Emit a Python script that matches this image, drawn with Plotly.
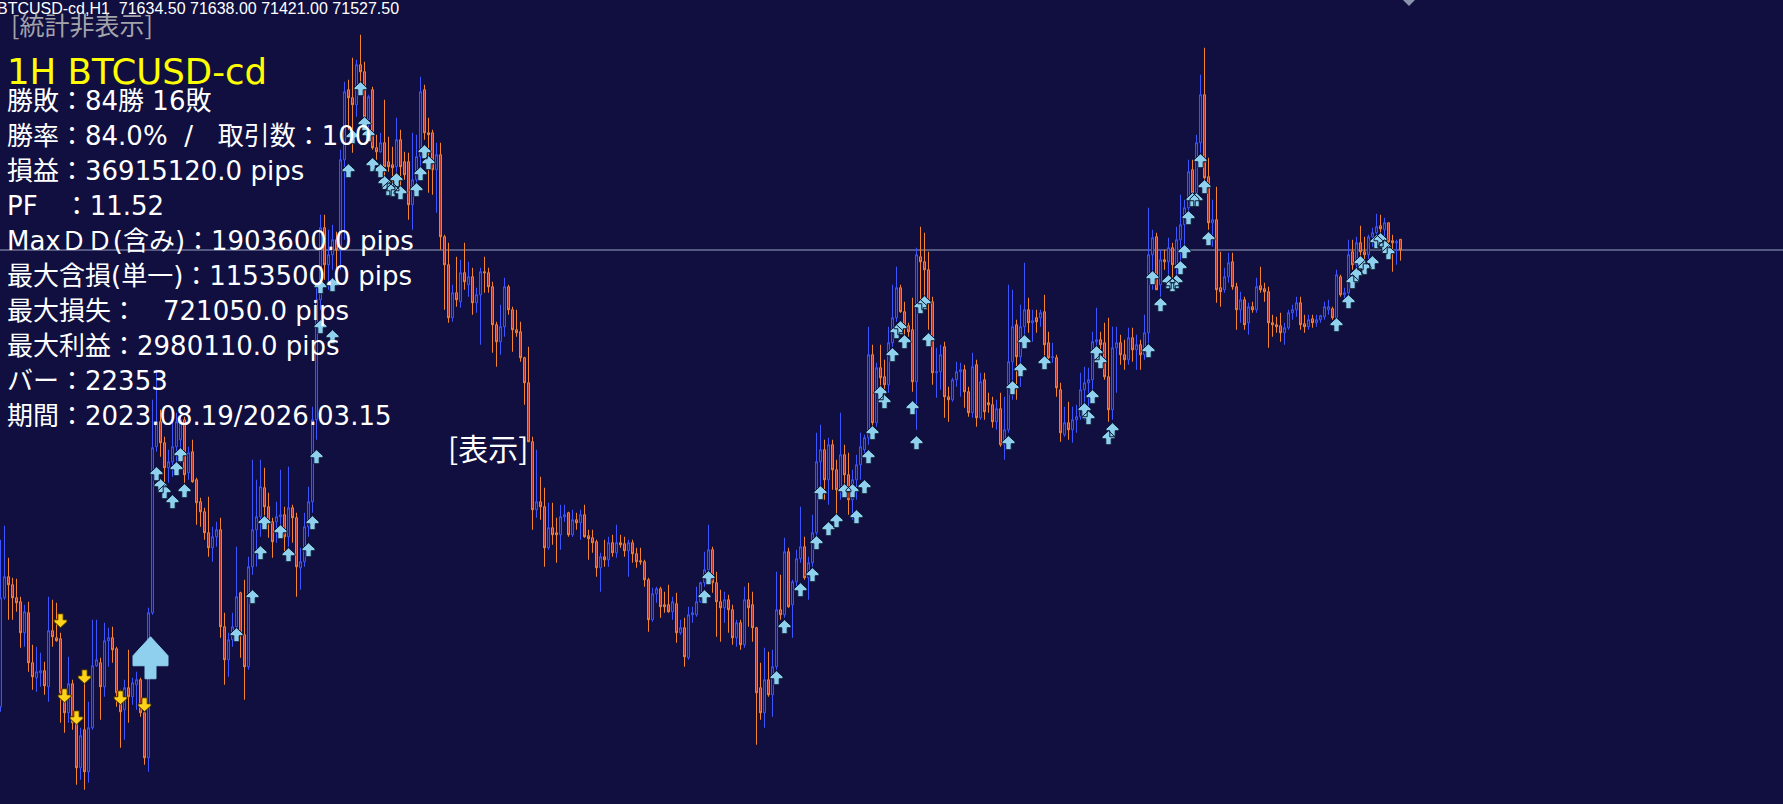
import plotly.graph_objects as go

W, H = 1783, 804
BG = "#100f3f"

# ---------------- data (BTCUSD-cd H1, last 351 bars) ----------------
opens = [
66960, 68050, 68260, 68180, 68050, 68010, 67700, 67900, 67400, 67250,
67300, 67320, 67160, 67720, 67650, 67640, 67100, 66900, 67190, 66800,
66350, 66730, 66310, 66750, 67370, 67400, 67160, 67620, 67650, 67540,
67100, 66930, 67150, 67060, 67180, 67230, 66900, 66450, 67900, 69560,
69810, 69600, 69350, 69410, 69560, 69630, 69830, 69300, 69510, 69230,
69010, 68910, 68700, 68550, 68660, 68730, 67760, 67430, 67630, 67760,
68100, 67680, 67360, 68360, 68730, 68860, 69150, 68960, 68810, 68810,
68860, 68880, 68660, 68950, 68850, 68350, 68410, 68760, 69010, 69830,
71030, 71750, 71380, 71480, 71630, 71530, 72430, 73130, 73050, 72980,
73380, 73310, 72830, 73130, 72550, 72510, 72600, 72410, 72380, 72360,
72630, 72410, 72410, 71980, 72230, 72460, 73130, 72700, 72700, 72330,
72480, 71660, 71380, 70850, 71100, 71010, 71300, 71180, 71260, 71000,
71080, 71310, 71300, 71160, 70780, 70610, 70760, 71160, 70930, 70730,
70710, 70450, 70200, 69610, 68930, 69010, 68960, 68550, 68750, 68700,
68680, 68860, 68900, 68680, 68830, 68800, 68880, 68670, 68650, 68610,
68350, 68460, 68430, 68600, 68500, 68600, 68590, 68520, 68600, 68490,
68420, 68410, 68230, 67830, 68090, 68140, 67980, 67980, 67910, 67990,
67700, 67750, 67450, 67880, 67880, 68010, 68200, 68330, 68530, 68200,
68010, 67950, 68030, 67930, 67650, 67800, 67580, 68030, 67980, 67750,
67150, 66900, 67230, 67080, 67360, 67930, 67880, 68510, 67980, 68210,
68440, 68560, 68250, 68400, 68700, 69410, 69530, 69230, 69580, 69330,
69130, 69480, 69280, 69030, 69230, 69380, 69530, 69650, 70480, 69800,
70350, 70260, 70180, 70600, 70850, 71150, 70910, 70770, 70730, 70210,
71460, 71410, 71330, 71010, 70300, 70310, 70560, 70060, 70030, 70230,
70310, 70330, 70110, 69900, 70380, 69850, 70230, 70000, 69980, 69810,
69940, 69580, 69730, 70410, 70780, 70460, 70760, 70930, 70800, 70850,
70850, 70910, 70600, 70450, 70450, 70130, 69680, 69800, 69730, 69830,
69860, 70130, 70200, 70230, 70610, 70630, 70600, 70260, 69930, 70550,
70600, 70480, 70430, 70650, 70530, 70580, 70480, 70700, 71480, 71660,
71180, 71430, 71410, 71550, 71380, 71630, 71780, 71950, 72330, 72100,
72600, 73080, 72260, 71800, 71830, 71150, 71130, 71260, 71410, 71160,
70930, 71030, 70800, 70960, 70930, 71170, 71140, 71110, 70800, 70780,
70770, 70700, 70750, 70900, 70930, 71000, 70790, 70760, 70840, 70800,
70830, 70860, 70930, 70940, 70850, 71260, 71080, 71100, 71510, 71380,
71600, 71510, 71480, 71660, 71700, 71770, 71730, 71800, 71620, 71600,
71634.5]

highs = [
68630, 68770, 68450, 68250, 68240, 68060, 67980, 68010, 67580, 67560,
67500, 67410, 68060, 68030, 68000, 67700, 67130, 67460, 67230, 66900,
66750, 67260, 67010, 67830, 67830, 67450, 67800, 67750, 67760, 67560,
67130, 67230, 67530, 67250, 67310, 67250, 66910, 67950, 70030, 70330,
69930, 69660, 69530, 69830, 69900, 69930, 69860, 69560, 69630, 69250,
69050, 68950, 69060, 68760, 68810, 68850, 67900, 67700, 67900, 68560,
68110, 68230, 68460, 69430, 69230, 69430, 69350, 69100, 68850, 69010,
69330, 68960, 69360, 68980, 68900, 68550, 68900, 69160, 69960, 71200,
71880, 71880, 71730, 71780, 71710, 72530, 73210, 73230, 73450, 73430,
73680, 73410, 73080, 73160, 72680, 72700, 73030, 72660, 72560, 72850,
72730, 72510, 72500, 72700, 72680, 73260, 73180, 72850, 72730, 72600,
72600, 71680, 71600, 71180, 71460, 71430, 71600, 71410, 71350, 71150,
71350, 71460, 71350, 71210, 70810, 70980, 71250, 71180, 70960, 70930,
70810, 70460, 70560, 69660, 69530, 69260, 69150, 69000, 69000, 68850,
68980, 68980, 68910, 68930, 68900, 68930, 68980, 68730, 68730, 68630,
68500, 68630, 68660, 68680, 68780, 68680, 68660, 68630, 68630, 68550,
68550, 68430, 68250, 68150, 68160, 68160, 68110, 68180, 68060, 68100,
67830, 67850, 67960, 67960, 68160, 68210, 68510, 68780, 68560, 68310,
68130, 68110, 68080, 67980, 67830, 67830, 68160, 68200, 68110, 67760,
67400, 67550, 67510, 67530, 68310, 68280, 68650, 68550, 68230, 68530,
68960, 68660, 68460, 68880, 69700, 69780, 69630, 69650, 69630, 69430,
69900, 69580, 69500, 69330, 69480, 69700, 69680, 70760, 70580, 70400,
70580, 70430, 70760, 71180, 71360, 71180, 71010, 70800, 71050, 71550,
71760, 71700, 71510, 71060, 70550, 70580, 70610, 70160, 70250, 70410,
70400, 70380, 70160, 70500, 70430, 70300, 70300, 70100, 70060, 70030,
70100, 70060, 71180, 71130, 70830, 70980, 71400, 71050, 70930, 70930,
70930, 71080, 70710, 70600, 70480, 70200, 69960, 70010, 69960, 69980,
70300, 70360, 70350, 70710, 70950, 70710, 70800, 70850, 70760, 70760,
70680, 70630, 70750, 70750, 70680, 70630, 70880, 71950, 71730, 71700,
71530, 71530, 71650, 71600, 71760, 72080, 72030, 72430, 72430, 72680,
73280, 73550, 72450, 72030, 72160, 71510, 71350, 71500, 71500, 71200,
71110, 71060, 71000, 71010, 71250, 71360, 71200, 71160, 70880, 70860,
70900, 70800, 70930, 70980, 71060, 71060, 70880, 70880, 70880, 70880,
70880, 71010, 71030, 70960, 71330, 71280, 71150, 71630, 71630, 71660,
71770, 71660, 71680, 71750, 71890, 71880, 71850, 71800, 71680, 71630,
71638.0]

lows = [
66910, 68030, 67830, 67830, 67910, 67550, 67560, 67310, 67130, 67110,
67160, 67080, 67010, 67560, 67610, 66800, 66700, 66800, 66730, 66180,
66230, 66130, 66200, 66730, 67360, 66830, 67060, 67360, 67400, 66960,
66550, 66630, 66800, 66980, 66930, 66860, 66380, 66310, 67880, 69510,
69460, 69200, 69200, 69260, 69360, 69400, 69200, 69230, 69200, 68780,
68760, 68630, 68460, 68410, 68560, 67650, 67180, 67260, 67560, 67700,
67450, 67030, 67330, 68280, 68360, 68660, 68830, 68650, 68450, 68600,
68760, 68500, 68560, 68600, 68060, 68130, 68360, 68660, 68900, 69630,
70930, 71230, 71130, 71330, 71350, 71330, 71630, 72730, 72500, 72860,
73160, 72730, 72710, 72530, 72430, 72500, 72260, 72310, 72160, 72250,
72160, 72230, 71830, 71730, 72200, 72360, 72630, 72100, 72080, 71900,
71530, 70930, 70800, 70810, 70960, 70950, 71130, 71060, 70880, 70900,
70580, 71100, 71100, 70500, 70360, 70480, 70660, 70880, 70510, 70660,
70410, 69980, 69610, 68730, 68850, 68830, 68360, 68530, 68580, 68400,
68530, 68810, 68660, 68660, 68730, 68630, 68650, 68430, 68500, 68260,
68110, 68360, 68360, 68460, 68450, 68550, 68460, 68260, 68400, 68350,
68380, 68160, 67710, 67810, 68000, 67850, 67900, 67900, 67830, 67600,
67680, 67360, 67430, 67800, 67860, 68000, 68160, 68300, 68100, 67660,
67610, 67800, 67700, 67580, 67560, 67530, 67550, 67760, 67610, 66580,
66830, 66750, 67060, 66860, 67330, 67830, 67850, 67950, 67650, 68160,
68400, 68230, 68030, 68360, 68630, 69130, 69030, 68980, 69130, 68830,
69030, 69080, 68880, 68830, 69030, 69230, 69460, 69580, 69700, 69760,
70100, 70030, 70100, 70560, 70810, 70900, 70600, 70660, 70110, 69730,
71030, 70960, 70730, 70180, 70050, 70130, 69850, 69810, 70010, 70160,
70060, 69950, 69860, 69850, 69760, 69830, 69830, 69900, 69750, 69730,
69560, 69430, 69700, 70030, 70030, 70160, 70630, 70700, 70610, 70700,
70760, 70460, 70410, 70400, 70060, 69610, 69660, 69630, 69600, 69700,
69830, 69830, 69810, 70100, 70460, 70360, 70230, 69810, 69830, 70100,
70380, 70330, 70380, 70410, 70330, 70330, 70430, 70530, 71130, 71130,
71060, 71330, 71260, 71200, 71260, 71360, 71460, 71860, 72060, 72000,
72500, 72210, 71730, 71560, 71000, 70960, 71100, 71200, 71130, 70730,
70800, 70730, 70680, 70900, 70900, 71100, 71010, 70550, 70660, 70700,
70610, 70580, 70730, 70830, 70860, 70730, 70700, 70730, 70750, 70760,
70800, 70830, 70880, 70830, 70830, 71060, 71030, 71060, 71330, 71330,
71460, 71350, 71410, 71560, 71650, 71600, 71560, 71560, 71310, 71380,
71421.0]

closes = [
68050, 68260, 68180, 68050, 68000, 67700, 67910, 67400, 67260, 67310,
67320, 67170, 67720, 67660, 67620, 67100, 66900, 67190, 66800, 66350,
66670, 66310, 66750, 67370, 67430, 67160, 67620, 67650, 67530, 67100,
66910, 67150, 67060, 67200, 67230, 66900, 66450, 67900, 69550, 69810,
69600, 69350, 69410, 69560, 69810, 69830, 69280, 69500, 69210, 69000,
68910, 68700, 68550, 68660, 68730, 67760, 67430, 67630, 67760, 68060,
67700, 67360, 68360, 68730, 68860, 69160, 68960, 68810, 68610, 68860,
68880, 68660, 68950, 68850, 68360, 68410, 68760, 69010, 69830, 71030,
71750, 71380, 71480, 71630, 71530, 72430, 73110, 73050, 72980, 73380,
73310, 72860, 73060, 72550, 72510, 72600, 72360, 72360, 72350, 72630,
72360, 72280, 71980, 72230, 72460, 73110, 72700, 72680, 72330, 72480,
71660, 71380, 70850, 71100, 71030, 71300, 71210, 71260, 71000, 71080,
71310, 71300, 71160, 70780, 70610, 70760, 71160, 70930, 70730, 70700,
70450, 70200, 69610, 68930, 69010, 68960, 68550, 68750, 68680, 68680,
68860, 68880, 68680, 68830, 68800, 68880, 68660, 68640, 68600, 68350,
68460, 68430, 68600, 68500, 68600, 68580, 68520, 68600, 68490, 68410,
68410, 68230, 67830, 68090, 68140, 67960, 67960, 67910, 68010, 67700,
67750, 67460, 67880, 67900, 68010, 68200, 68330, 68530, 68200, 68010,
67950, 68030, 67930, 67650, 67800, 67580, 68030, 67950, 67750, 67100,
66900, 67230, 67080, 67360, 67930, 67880, 68510, 67960, 68210, 68440,
68560, 68250, 68400, 68700, 69410, 69530, 69230, 69580, 69330, 69130,
69480, 69280, 69030, 69230, 69380, 69560, 69650, 70480, 69800, 70350,
70250, 70180, 70600, 70850, 71150, 70910, 70760, 70710, 70210, 71480,
71410, 71330, 71000, 70300, 70310, 70480, 70060, 70030, 70230, 70310,
70330, 70110, 69900, 70360, 69850, 70210, 69910, 69980, 69810, 69940,
69580, 69730, 70410, 70760, 70460, 70760, 70930, 70800, 70820, 70810,
70900, 70580, 70450, 70460, 70150, 69700, 69800, 69730, 69830, 69860,
70130, 70200, 70230, 70610, 70630, 70580, 70260, 69930, 70550, 70600,
70480, 70430, 70650, 70530, 70580, 70480, 70700, 71480, 71650, 71130,
71430, 71410, 71550, 71380, 71630, 71780, 71950, 72310, 72100, 72600,
73080, 72250, 71800, 71830, 71130, 71110, 71260, 71400, 71160, 70930,
71030, 70780, 70960, 70930, 71160, 71130, 71110, 70800, 70780, 70760,
70700, 70750, 70900, 70930, 71000, 70780, 70760, 70830, 70800, 70830,
70870, 70960, 70960, 70850, 71280, 71080, 71100, 71480, 71380, 71600,
71510, 71480, 71660, 71700, 71760, 71740, 71800, 71610, 71600, 71610,
71527.5]

bars = list(range(len(opens)))

# buy signals (light-blue up arrows): bar index, price level of arrow centre
buy_bar = [39, 40, 41, 43, 44, 45, 46, 59, 63, 65, 66, 70, 72, 77, 78, 79,
           80, 80, 83, 83, 87, 88, 90, 91, 92, 93, 95, 96, 97, 98, 99, 100,
           104, 105, 106, 107, 176, 177, 194, 196, 200, 203, 204, 205, 207,
           209, 211, 213, 214, 216, 217, 218, 220, 221, 223, 224, 225, 226,
           228, 229, 230, 231, 232, 252, 253, 255, 256, 261, 271, 272, 273,
           274, 275, 277, 278, 287, 288, 290, 292, 293, 294, 295, 296, 297,
           298, 299, 300, 301, 302, 334, 337, 338, 339, 340, 341, 343, 344,
           345, 346, 347]
buy_price = [69290, 69170, 69110, 69010, 69340, 69480, 69120, 67680, 68060,
             68500, 68800, 68710, 68480, 68530, 68800, 69460, 70760, 71160,
             70660, 71180, 72320, 72660, 73140, 72790, 72680, 72380, 72320,
             72200, 72140, 72130, 72230, 72100, 72130, 72290, 72510, 72400,
             68060, 68250, 67250, 67760, 68130, 68280, 68600, 69100, 68740,
             68820, 69120, 69120, 68860, 69160, 69460, 69700, 70100, 70010,
             70480, 70710, 70750, 70610, 69950, 69600, 70960, 71000, 70630,
             69600, 70150, 70330, 70610, 70400, 69930, 69850, 70060, 70500,
             70410, 69650, 69730, 70520, 71250, 70980, 71210, 71180, 71210,
             71350, 71510, 71850, 72030, 72030, 72420, 72160, 71640, 70780,
             71010, 71210, 71280, 71400, 71350, 71400, 71610, 71630, 71560,
             71500]

# sell signals (yellow down arrows)
sell_bar = [15, 16, 19, 21, 30, 36]
sell_price = [67820, 67070, 66850, 67260, 67050, 66980]

# current large entry arrow (tip level)
big_bar = [37.5]
big_price = [67660]

stats_lines = [
    "勝敗：84勝 16敗",
    "勝率：84.0%\u00a0\u00a0/\u00a0\u00a0\u00a0取引数：100",
    "損益：36915120.0 pips",
    "PF　：11.52",
    "MaxＤＤ(含み)：1903600.0 pips",
    "最大含損(単一)：1153500.0 pips",
    "最大損失：　721050.0 pips",
    "最大利益：2980110.0 pips",
    "バー：22353",
    "期間：2023.08.19/2026.03.15",
]
header_text = "BTCUSD-cd,H1\u00a0\u00a071634.50 71638.00 71421.00 71527.50"

# ---------------- scales ----------------
X0, X1 = -0.125, 445.625
Y0, Y1 = 65987.5, 74027.5
PXX = (X1 - X0) / W      # bar units per pixel
PXY = (Y1 - Y0) / H      # price per pixel

UP_GLYPH = [(0, 0), (6.5, 6), (6.5, 8), (2.7, 8), (2.7, 14), (-2.7, 14), (-2.7, 8),
            (-6.5, 8), (-6.5, 6), (0, 0)]
BIG_GLYPH = [(0, 0), (17.5, 19), (17.5, 29), (5.5, 29), (5.5, 42), (-5.5, 42),
             (-5.5, 29), (-17.5, 29), (-17.5, 19), (0, 0)]


def glyphs(xs, ys, glyph, up=True, centre=7.0):
    gx, gy = [], []
    for x, y in zip(xs, ys):
        tip = y + centre * PXY if up else y - centre * PXY
        for dx, dy in glyph:
            gx.append(x + dx * PXX)
            gy.append(tip - dy * PXY if up else tip + dy * PXY)
        gx.append(None)
        gy.append(None)
    return gx, gy


fig = go.Figure()
fig.add_trace(go.Candlestick(
    x=bars, open=opens, high=highs, low=lows, close=closes,
    increasing=dict(line=dict(color="#3d55ff", width=1), fillcolor="#16165e"),
    decreasing=dict(line=dict(color="#f5842c", width=1), fillcolor="#b8321a"),
    whiskerwidth=0, hoverinfo="skip", showlegend=False))

bx, by = glyphs(buy_bar, buy_price, UP_GLYPH, up=True)
fig.add_trace(go.Scatter(x=bx, y=by, mode="lines", fill="toself",
                         fillcolor="#8fd0ee", line=dict(color="#0c1a33", width=1),
                         hoverinfo="skip", showlegend=False))
sx, sy = glyphs(sell_bar, sell_price, UP_GLYPH, up=False)
fig.add_trace(go.Scatter(x=sx, y=sy, mode="lines", fill="toself",
                         fillcolor="#ffd21a", line=dict(color="#3a2a00", width=1),
                         hoverinfo="skip", showlegend=False))
gx, gy = glyphs(big_bar, big_price, BIG_GLYPH, up=True, centre=0)
fig.add_trace(go.Scatter(x=gx, y=gy, mode="lines", fill="toself",
                         fillcolor="#8fd0ee", line=dict(color="#8fd0ee", width=1),
                         hoverinfo="skip", showlegend=False))


def px_x(p):
    return p / W


def px_y(p):
    return 1 - p / H


ann = []
ann.append(dict(text=header_text, x=px_x(-5), y=px_y(9), xanchor="left", yanchor="middle",
                font=dict(family="Liberation Sans", size=16, color="#ffffff")))
ann.append(dict(text="[統計非表示]", x=px_x(9), y=px_y(24), xanchor="left", yanchor="middle",
                font=dict(family="Noto Sans CJK JP", size=25, color="#a3a3ab")))
ann.append(dict(text="1H BTCUSD-cd", x=px_x(5), y=px_y(71), xanchor="left", yanchor="middle",
                font=dict(family="DejaVu Sans", size=35.5, color="#ffff00")))
for k, line in enumerate(stats_lines):
    ann.append(dict(text=line, x=px_x(5), y=px_y(101 + 35 * k), xanchor="left", yanchor="middle",
                    font=dict(family="DejaVu Sans, Noto Sans CJK JP", size=26, color="#ffffff")))
ann.append(dict(text="[表示]", x=px_x(446), y=px_y(447), xanchor="left", yanchor="middle",
                font=dict(family="Noto Sans CJK JP", size=30, color="#ffffff")))
for a in ann:
    a.update(xref="paper", yref="paper", showarrow=False)

shapes = [
    dict(type="line", xref="paper", yref="y", x0=0, x1=1, y0=closes[-1], y1=closes[-1],
         line=dict(color="#9aa2c0", width=1), layer="below"),
    dict(type="path", xref="paper", yref="paper", xsizemode="pixel", ysizemode="pixel",
         xanchor=1409 / W, yanchor=1, path="M-6,0 L6,0 L0,-6 Z",
         fillcolor="#8a94aa", line=dict(width=0)),
]

fig.update_layout(
    width=W, height=H, margin=dict(l=0, r=0, t=0, b=0),
    paper_bgcolor=BG, plot_bgcolor=BG, showlegend=False,
    xaxis=dict(range=[X0, X1], visible=False, rangeslider=dict(visible=False), fixedrange=True),
    yaxis=dict(range=[Y0, Y1], visible=False, fixedrange=True),
    annotations=ann, shapes=shapes, hovermode=False,
)

fig.write_html("out.html", config={"displayModeBar": False},
               post_script="document.body.style.margin='0';document.body.style.background='%s';" % BG)
